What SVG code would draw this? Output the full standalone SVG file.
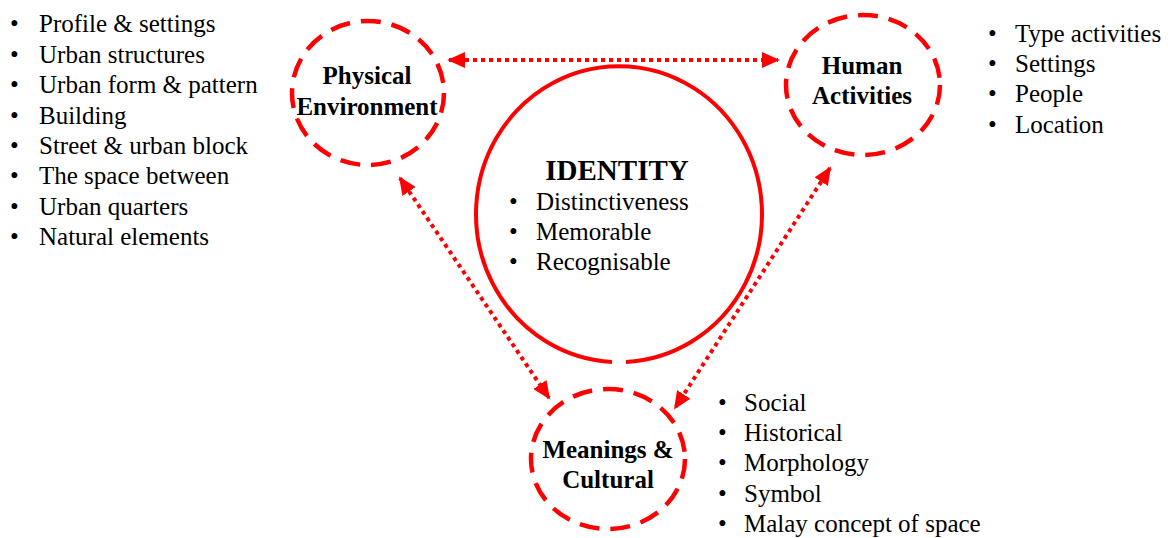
<svg xmlns="http://www.w3.org/2000/svg" width="1168" height="538" viewBox="0 0 1168 538">
<style>
.txt{font-family:"Liberation Serif","Times New Roman",serif;font-size:25px;fill:#000}
.b{font-weight:bold}
.dash{fill:none;stroke:#ff0000;stroke-width:4.5;stroke-dasharray:20 11}
.dot{fill:none;stroke:#ff0000;stroke-width:4;stroke-dasharray:4 4}
</style>
<defs>
<marker id="ah" viewBox="0 0 10 10" refX="9" refY="5" markerWidth="4.5" markerHeight="4" orient="auto-start-reverse" markerUnits="strokeWidth" preserveAspectRatio="none">
<path d="M0,0 L10,5 L0,10 z" fill="#ff0000"/>
</marker>
</defs>
<rect width="1168" height="538" fill="#fff"/>
<g id="connectors">
<line class="dot" x1="449" y1="60" x2="778" y2="60" marker-start="url(#ah)" marker-end="url(#ah)"/>
<line class="dot" x1="400" y1="178" x2="549" y2="398" marker-start="url(#ah)" marker-end="url(#ah)"/>
<line class="dot" x1="830" y1="168" x2="675" y2="408" marker-start="url(#ah)" marker-end="url(#ah)"/>
</g>
<g id="identity">
<path d="M 612 362 A 143 148 0 1 1 626 362" fill="none" stroke="#ff0000" stroke-width="4"/>
<text class="txt b" x="617" y="180" text-anchor="middle" style="font-size:29px">IDENTITY</text>
<text class="txt" x="509" y="210">•</text><text class="txt" x="536" y="210">Distinctiveness</text>
<text class="txt" x="509" y="240">•</text><text class="txt" x="536" y="240">Memorable</text>
<text class="txt" x="509" y="270">•</text><text class="txt" x="536" y="270">Recognisable</text>
</g>
<g id="physical">
<ellipse class="dash" cx="368" cy="93" rx="76" ry="72"/>
<text class="txt b" x="367" y="84" text-anchor="middle">Physical</text>
<text class="txt b" x="367" y="115" text-anchor="middle">Environment</text>
</g>
<g id="human">
<ellipse class="dash" cx="863" cy="85" rx="77" ry="70"/>
<text class="txt b" x="862" y="74" text-anchor="middle">Human</text>
<text class="txt b" x="862" y="104" text-anchor="middle">Activities</text>
</g>
<g id="meanings">
<ellipse class="dash" cx="608" cy="459" rx="77" ry="70"/>
<text class="txt b" x="608" y="458" text-anchor="middle">Meanings &amp;</text>
<text class="txt b" x="608" y="488" text-anchor="middle">Cultural</text>
</g>
<g id="physical-list">
<text class="txt" x="10" y="32">•</text><text class="txt" x="39" y="32">Profile &amp; settings</text>
<text class="txt" x="10" y="63">•</text><text class="txt" x="39" y="63">Urban structures</text>
<text class="txt" x="10" y="93">•</text><text class="txt" x="39" y="93">Urban form &amp; pattern</text>
<text class="txt" x="10" y="124">•</text><text class="txt" x="39" y="124">Building</text>
<text class="txt" x="10" y="154">•</text><text class="txt" x="39" y="154">Street &amp; urban block</text>
<text class="txt" x="10" y="184">•</text><text class="txt" x="39" y="184">The space between</text>
<text class="txt" x="10" y="215">•</text><text class="txt" x="39" y="215">Urban quarters</text>
<text class="txt" x="10" y="245">•</text><text class="txt" x="39" y="245">Natural elements</text>
</g>
<g id="human-list">
<text class="txt" x="988" y="42">•</text><text class="txt" x="1015" y="42">Type activities</text>
<text class="txt" x="988" y="72">•</text><text class="txt" x="1015" y="72">Settings</text>
<text class="txt" x="988" y="102">•</text><text class="txt" x="1015" y="102">People</text>
<text class="txt" x="988" y="133">•</text><text class="txt" x="1015" y="133">Location</text>
</g>
<g id="meanings-list">
<text class="txt" x="718" y="411">•</text><text class="txt" x="744" y="411">Social</text>
<text class="txt" x="718" y="441">•</text><text class="txt" x="744" y="441">Historical</text>
<text class="txt" x="718" y="471">•</text><text class="txt" x="744" y="471">Morphology</text>
<text class="txt" x="718" y="502">•</text><text class="txt" x="744" y="502">Symbol</text>
<text class="txt" x="718" y="532">•</text><text class="txt" x="744" y="532">Malay concept of space</text>
</g>
</svg>
